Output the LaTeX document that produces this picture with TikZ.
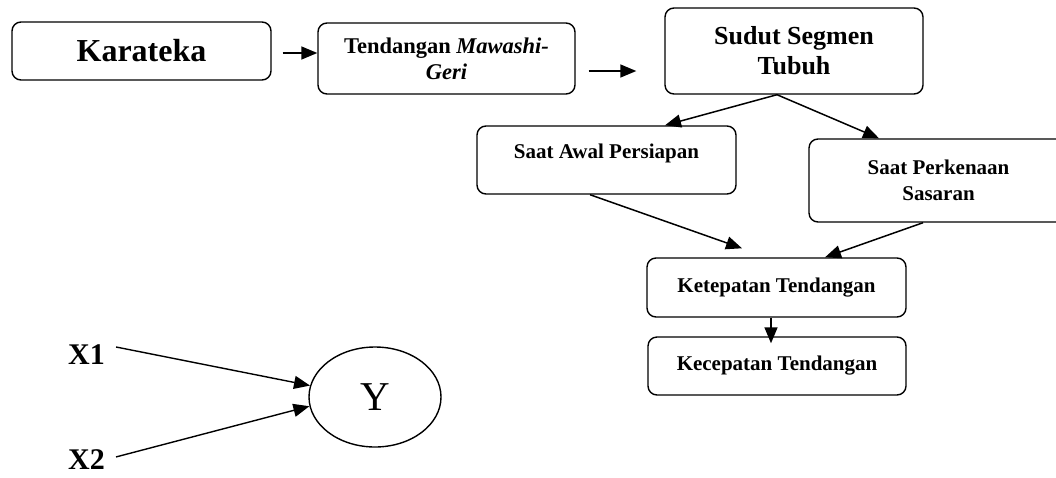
\documentclass[tikz,border=0pt]{standalone}
\usepackage{fontspec}
\setmainfont{Liberation Serif}
\usetikzlibrary{arrows.meta,shapes.geometric}
\begin{document}
\begin{tikzpicture}[x=1pt,y=-1pt,
  box/.style={draw, line width=1.4pt, rounded corners=9pt, align=center, inner sep=0pt},
  arr/.style={line width=1.5pt, -{Triangle[length=16pt,width=13pt]}},
  arrx/.style={line width=1.4pt, -{Triangle[length=16pt,width=13pt]}},
  f21/.style={font=\bfseries\fontsize{21}{26}\selectfont},
]
\useasboundingbox (0,0) rectangle (1056,477);
% top row
\node[box, minimum width=259pt, minimum height=58pt, font=\bfseries\fontsize{32}{36}\selectfont] (kar) at (141.5,51) {Karateka};
\node[box, minimum width=257pt, minimum height=71pt, font=\bfseries\fontsize{22.5}{26}\selectfont] (ten) at (446.5,58.5) {Tendangan \textit{Mawashi-}\\\textit{Geri}};
\node[box, minimum width=258pt, minimum height=86pt, font=\bfseries\fontsize{26}{30}\selectfont] (sud) at (794,51) {Sudut Segmen\\Tubuh};
% middle
\node[box, f21, minimum width=259pt, minimum height=68pt] (awal) at (606.5,160) {Saat Awal Persiapan\\[-8pt]\mbox{}};
\node[box, f21, minimum width=259pt, minimum height=83pt] (perk) at (938.5,180.5) {Saat Perkenaan\\Sasaran};
\node[box, f21, minimum width=259pt, minimum height=59pt] (ket) at (776.5,287.5) {Ketepatan Tendangan};
\node[box, f21, minimum width=258pt, minimum height=58pt] (kec) at (777,366) {Kecepatan Tendangan};
% connectors
\draw[arr] ([shift={(11,2)}]kar.east) -- ([shift={(0,-5.5)}]ten.west);
\draw[arr] ([shift={(13,12.5)}]ten.east) -- ([shift={(-28,20)}]sud.west);
\draw[arr] ([shift={(-17,0)}]sud.south) -- ([shift={(58.5,0)}]awal.north);
\draw[arr] ([shift={(-17,0)}]sud.south) -- ([shift={(-59.5,0)}]perk.north);
\draw[arr] ([shift={(-16.5,0)}]awal.south) -- ([shift={(-34.5,-9)}]ket.north);
\draw[arr] ([shift={(-15.5,0)}]perk.south) -- ([shift={(48.5,0)}]ket.north);
\draw[arr] ([shift={(-5.5,0)}]ket.south) -- ([shift={(-6,7)}]kec.north);
% bottom left
\node[font=\bfseries\fontsize{30}{33}\selectfont, inner sep=0pt, anchor=base west] (x1) at (68,364) {X1};
\node[font=\bfseries\fontsize{30}{33}\selectfont, inner sep=0pt, anchor=base west] (x2) at (68,469) {X2};
\node[ellipse, draw, line width=1.4pt, minimum width=132pt, minimum height=100pt, inner sep=0pt, font=\fontsize{41}{44}\selectfont] (yy) at (375,397) {Y};
\draw[arrx] ([shift={(11,3)}]x1.north east) -- (yy.170);
\draw[arrx] ([shift={(11,8)}]x2.north east) -- (yy.188);
\end{tikzpicture}
\end{document}
